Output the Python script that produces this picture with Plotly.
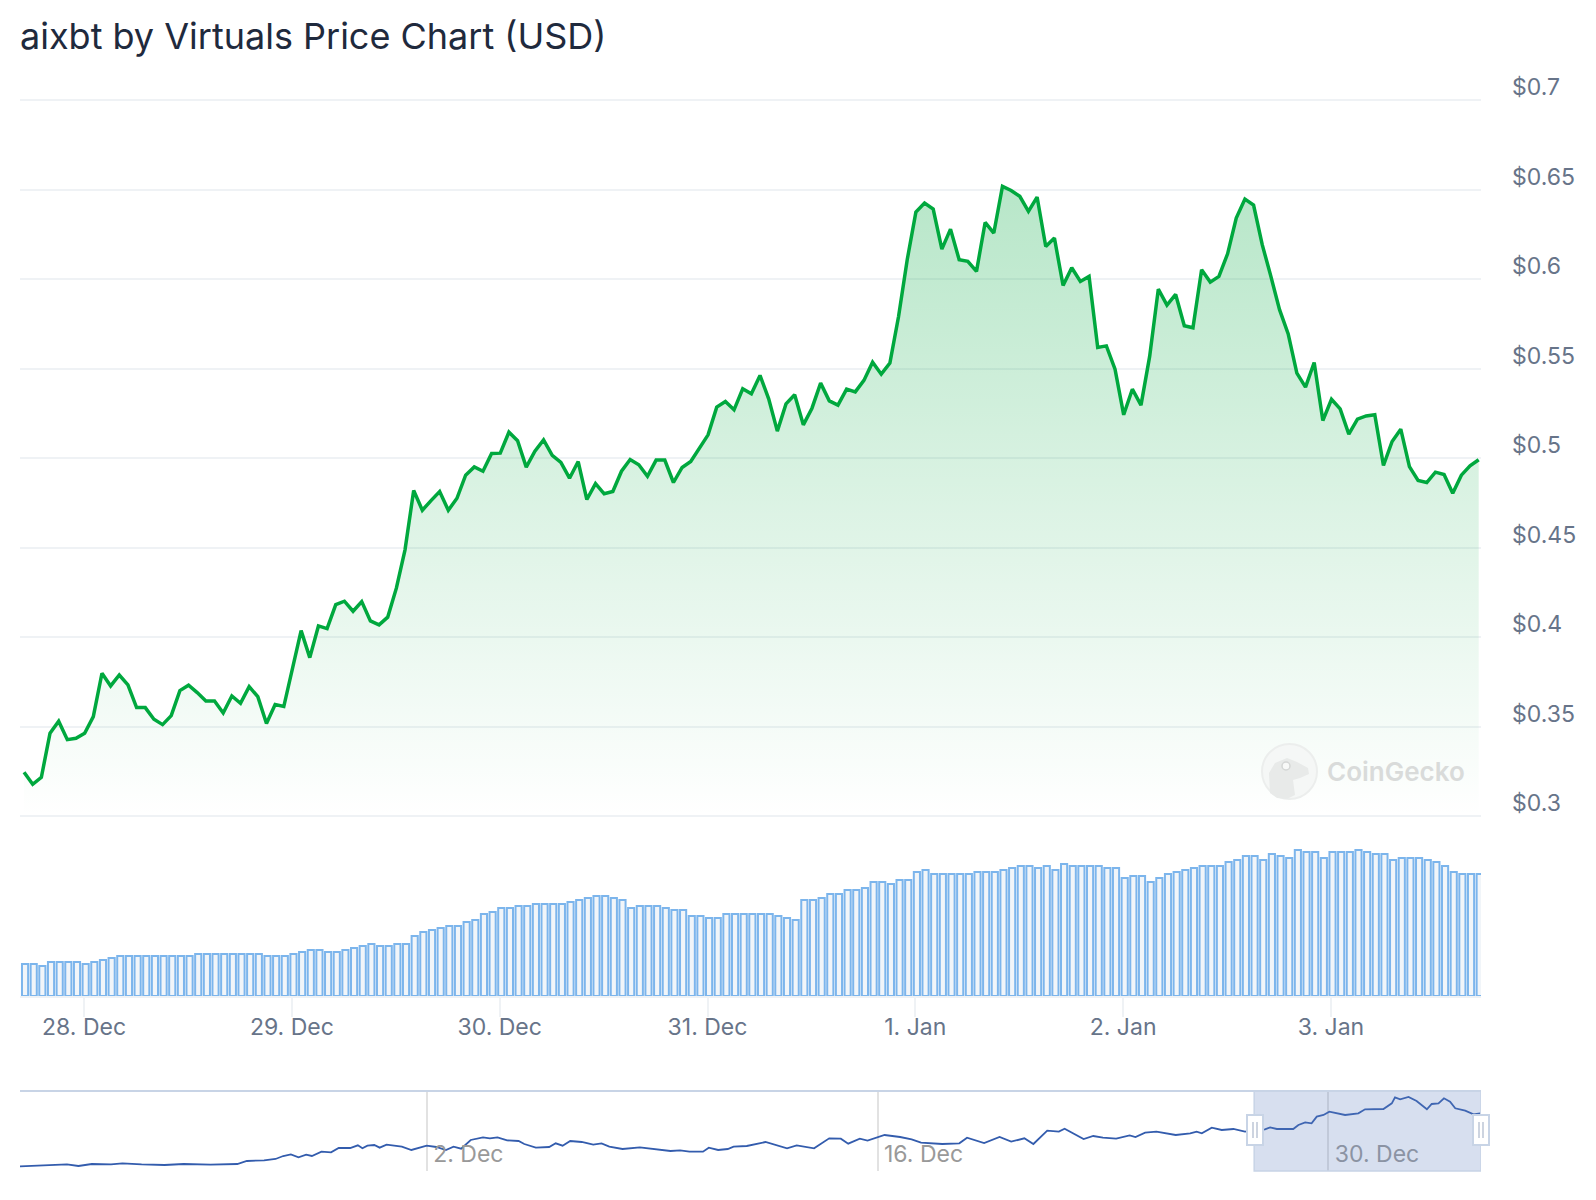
import pandas as pd
import plotly.graph_objects as go

# hourly price, 27 Dec 17:11 -> 3 Jan 17:11
price = [
    .3246, .3179, .3218, .3464, .3531, .3428, .3436, .3464, .3557, .3799,
    .3728, .3789, .3734, .3607, .3607, .3542, .3512, .3562, .3702, .3732,
    .3691, .3644, .3644, .3577, .3672, .3631, .3724, .3668, .3518, .3624,
    .3613, .3825, .4037, .3886, .4063, .4048, .4182, .4201, .4145, .4199,
    .4091, .4069, .4112, .4274, .4488, .4819, .4709, .4763, .4814, .4709,
    .4776, .4905, .4951, .4927, .5026, .5028, .5145, .5097, .4950, .5039,
    .5102, .5015, .4976, .4888, .4981, .4769, .4858, .4801, .4814, .4927,
    .4992, .4963, .4899, .4989, .4989, .4864, .4948, .4981, .5056, .5130,
    .5285, .5316, .5270, .5387, .5359, .5462, .5331, .5151, .5303, .5354,
    .5186, .5279, .5419, .5320, .5296, .5385, .5370, .5434, .5536, .5469,
    .5531, .5791, .6108, .6374, .6424, .6391, .6167, .6279, .6108, .6099,
    .6043, .6316, .6257, .6518, .6495, .6462, .6378, .6458, .6182, .6229,
    .5964, .6063, .5987, .6015, .5618, .5627, .5497, .5242, .5385, .5296,
    .5568, .5944, .5855, .5914, .5739, .5728, .6052, .5983, .6015, .6141,
    .6341, .6447, .6413, .6192, .6015, .5829, .5694, .5475, .5397, .5534,
    .5210, .5329, .5275, .5134, .5218, .5236, .5242, .4959, .5093, .5162,
    .4953, .4875, .4864, .4922, .4909, .4804, .4905, .4957, .4991,
]
# hourly volume (axis hidden on the chart, so relative units)
volume = [
    32, 32, 30, 34, 34, 34, 34, 32, 34, 36, 38, 40, 40, 40, 40, 40, 40, 40, 40, 40,
    42, 42, 42, 42, 42, 42, 42, 42, 40, 40, 40, 42, 44, 46, 46, 44, 44, 46, 48, 50,
    52, 50, 50, 52, 52, 60, 64, 66, 68, 70, 70, 74, 76, 82, 84, 88, 88, 90, 90, 92,
    92, 92, 92, 94, 96, 98, 100, 100, 98, 96, 88, 90, 90, 90, 88, 86, 86, 80, 80, 78,
    78, 82, 82, 82, 82, 82, 82, 80, 78, 76, 96, 96, 98, 102, 102, 106, 106, 108, 114, 114,
    112, 116, 116, 124, 126, 122, 122, 122, 122, 122, 124, 124, 124, 126, 128, 130, 130, 128, 130, 126,
    132, 130, 130, 130, 130, 128, 128, 118, 120, 120, 114, 118, 122, 124, 126, 128, 130, 130, 130, 134,
    136, 140, 140, 136, 142, 140, 138, 146, 144, 144, 138, 144, 144, 144, 146, 144, 142, 142, 136, 138,
    138, 138, 136, 134, 130, 124, 122, 122, 122,
]
# navigator series: days since 19 Nov and price
nav_days = [
    .367, .937, 1.532, 1.829, 2.185, 2.601, 3.196, 3.552, 4.146, 4.86, 5.454, 6.286, 7.118, 7.415, 7.95,
    8.306, 8.544, 8.782, 9.019, 9.257, 9.435, 9.732, 10.03, 10.267, 10.624, 10.862, 11.004, 11.159, 11.373, 11.539,
    11.753, 12.228, 12.525, 12.763, 13.0, 13.298, 13.595, 13.833, 14.07, 14.367, 14.748, 14.962, 15.199, 15.496, 15.853,
    16.031, 16.388, 16.803, 17.006, 17.22, 17.457, 17.814, 18.17, 18.43, 18.67, 19.08, 19.62, 20.57, 20.87, 21.16,
    21.58, 21.76, 22.05, 22.35, 22.53, 22.94, 23.52, 24.19, 24.49, 25.03, 25.50, 25.86, 26.09, 26.45, 26.69,
    27.22, 27.70, 28.06, 28.35, 29.01, 29.54, 29.78, 30.31, 30.79, 31.15, 31.56, 31.84, 32.27, 32.63, 32.81,
    33.40, 33.70, 34.0, 34.41, 34.83, 35.01, 35.31, 35.66, 36.26, 36.71, 36.91, 37.07, 37.38, 37.69, 38.05,
    38.41, 39.03, 39.19, 39.40, 39.91, 40.07, 40.28, 40.48, 40.64, 40.85, 41.03, 41.52, 41.93, 42.14, 42.71,
    42.97, 43.07, 43.23, 43.49, 43.74, 44.06, 44.21, 44.42, 44.59, 44.78, 44.94, 45.25, 45.51, 45.71,
]
nav_price = [
    .001, .0083, .0114, .0208, .0052, .0239, .0208, .0301, .0208, .0146, .0239, .0177, .0239, .0519, .0581,
    .0706, .0986, .1142, .0862, .1111, .0986, .1391, .1329, .1734, .1734, .1983, .1703, .1952, .2015, .1765,
    .2046, .1859, .1547, .1765, .1952, .1828, .1547, .1859, .1672, .2482, .2731, .2638, .2731, .2451, .2389,
    .2108, .1765, .1828, .217, .1952, .2389, .2295, .2046, .217, .1858, .164, .1796, .1453, .1515, .1391,
    .1391, .1765, .1547, .164, .1858, .1921, .2294, .1702, .1983, .1702, .2637, .2606, .2138, .2606, .2419,
    .2948, .2761, .2543, .2232, .2107, .217, .2699, .2201, .2761, .2325, .2637, .2107, .3353, .326, .354,
    .2575, .2855, .2699, .2606, .2917, .2761, .3167, .326, .2948, .3104, .3261, .3105, .3635, .3416, .351,
    .3261, .3479, .3666, .351, .351, .3884, .4133, .404, .4663, .4818, .513, .4818, .4974, .5348, .5379,
    .5909, .6469, .6283, .6501, .6127, .5348, .5847, .5909, .6376, .6064, .5441, .5223, .4881, .4974,
]
y_ticks = [.3, .35, .4, .45, .5, .55, .6, .65, .7]
y_labels = ["$0.3", "$0.35", "$0.4", "$0.45", "$0.5", "$0.55", "$0.6", "$0.65", "$0.7"]
x_ticks = ["2024-12-28", "2024-12-29", "2024-12-30", "2024-12-31", "2025-01-01", "2025-01-02", "2025-01-03"]
x_labels = ["28. Dec", "29. Dec", "30. Dec", "31. Dec", "1. Jan", "2. Jan", "3. Jan"]
nav_ticks = ["2024-12-02", "2024-12-16", "2024-12-30"]
nav_labels = ["\u00a02. Dec", "\u00a016. Dec", "\u00a030. Dec"]

GREEN = "#00a83e"
GRID = "#eff2f5"
LABEL = "#677489"
FONT = "Inter"
EDGE = "#c8d4e6"

# the page has an 8px body margin, so work in window pixels and shift
W, H = 1580, 1172
def px(x):
    return (x - 8) / W
def py(y):
    return 1 - (y - 8) / H

dates = pd.date_range("2024-12-27 17:11", periods=len(price), freq="h")
nav_dates = pd.Timestamp("2024-11-19") + pd.to_timedelta(nav_days, unit="D")
x_range = ["2024-12-27 16:43", "2025-01-03 17:27"]
bar_range = ["2024-12-27 16:36", "2025-01-03 17:20"]
nav_range = ["2024-11-19 08:53", "2025-01-03 17:46"]

fig = go.Figure()
fig.add_trace(go.Scatter(
    x=dates, y=price, mode="lines", xaxis="x", yaxis="y",
    line=dict(color=GREEN, width=3.5),
    fill="tozeroy",
    fillgradient=dict(
        type="vertical", start=.3, stop=.65,
        colorscale=[[0, "rgba(0,168,62,0)"], [1, "rgba(0,168,62,0.28)"]],
    ),
))
fig.add_trace(go.Bar(
    x=dates, y=volume, xaxis="x2", yaxis="y2",
    marker=dict(color="#f1f5f9", line=dict(color="#7cb5ec", width=2)),
))
fig.add_trace(go.Scatter(
    x=nav_dates, y=nav_price, mode="lines", xaxis="x3", yaxis="y3",
    line=dict(color="#335cad", width=1.8),
))

# navigator window and handles
shapes = [
    dict(type="rect", xref="x3", yref="paper", x0=x_range[0], x1=nav_range[1], y0=py(1171), y1=py(1091),
         fillcolor="rgba(102,133,194,0.26)", line=dict(color=EDGE, width=1.5), layer="above"),
    dict(type="line", xref="paper", yref="paper", x0=px(20), x1=px(1481), y0=py(1091), y1=py(1091),
         line=dict(color=EDGE, width=2)),
]
for hx in [1255, 1481]:
    shapes.append(dict(type="rect", xref="paper", yref="paper", x0=px(hx - 8), x1=px(hx + 8),
                       y0=py(1145), y1=py(1115), fillcolor="white",
                       line=dict(color=EDGE, width=2), layer="above"))
    for dx in [-2, 2]:
        shapes.append(dict(type="line", xref="paper", yref="paper", x0=px(hx + dx), x1=px(hx + dx),
                           y0=py(1138), y1=py(1122),
                           line=dict(color="#bcc6d6", width=1.5), layer="above"))

# gecko watermark
def gecko_path(pts):
    return "M " + " L ".join(f"{px(a)},{py(b)}" for a, b in pts) + " Z"
shapes += [
    dict(type="circle", xref="paper", yref="paper", x0=px(1262), x1=px(1317), y0=py(799), y1=py(744),
         fillcolor="#f5f7f6", line=dict(color="#eceeed", width=2), layer="above"),
    dict(type="path", xref="paper", yref="paper", line=dict(width=0), fillcolor="#e8eae9", layer="above",
         path=gecko_path([(1270, 793), (1269, 773), (1275, 763), (1287, 758), (1297, 762), (1308, 768),
                          (1309, 774), (1300, 778), (1293, 780), (1295, 795), (1287, 799), (1277, 798)])),
    dict(type="circle", xref="paper", yref="paper", x0=px(1282), x1=px(1290), y0=py(770), y1=py(762),
         fillcolor="#f8f9f8", line=dict(color="#d4d6d5", width=1.5), layer="above"),
]

fig.update_layout(
    width=W, height=H,
    margin=dict(l=0, r=0, t=0, b=0),
    paper_bgcolor="white", plot_bgcolor="white",
    showlegend=False, bargap=.29,
    font=dict(family=FONT, color=LABEL, size=23),
    title=dict(text="aixbt by Virtuals Price Chart (USD)", x=px(20), xanchor="left", y=py(36), yanchor="middle",
               font=dict(family=FONT, size=36, color="#1f2a3d")),
    shapes=shapes,
    annotations=[dict(text="CoinGecko", xref="paper", yref="paper", x=px(1325), y=py(771), xanchor="left",
                      yanchor="middle", showarrow=False,
                      font=dict(family=FONT, size=26, color="#d9dbda", weight=600))],
    xaxis=dict(domain=[px(20), px(1481)], range=x_range, anchor="y", showgrid=False, showticklabels=False,
               zeroline=False, automargin=False),
    # range a touch wider than .3-.7 so the first and last gridlines are still drawn
    yaxis=dict(domain=[py(818.1), py(98.2)], range=[.299, .701], side="right", anchor="x",
               tickvals=y_ticks, ticktext=y_labels, gridcolor=GRID, gridwidth=2, zeroline=False,
               ticklabelstandoff=30, ticklabelshift=-13, showline=False, automargin=False),
    xaxis2=dict(domain=[px(20), px(1481)], range=bar_range, anchor="y2", tickvals=x_ticks, ticktext=x_labels,
                showgrid=False, showline=True, linecolor=GRID, linewidth=2, ticks="outside", ticklen=19,
                tickcolor=GRID, tickwidth=2, zeroline=False, automargin=False, ticklabelstandoff=-10),
    yaxis2=dict(domain=[py(996), py(826)], range=[0, 170], anchor="x2", visible=False, automargin=False),
    xaxis3=dict(domain=[px(20), px(1481)], range=nav_range, anchor="y3", tickvals=nav_ticks, ticktext=nav_labels,
                ticklabelposition="inside right", showgrid=True, gridcolor="#e2e2e2", gridwidth=1.5,
                tickfont=dict(color="#999999", size=23), zeroline=False, ticks="", automargin=False,
                ticklabelstandoff=-2),
    yaxis3=dict(domain=[py(1171), py(1091)], range=[-.0416, .706], anchor="x3", visible=False, automargin=False),
)

fig.write_html("out.html")
